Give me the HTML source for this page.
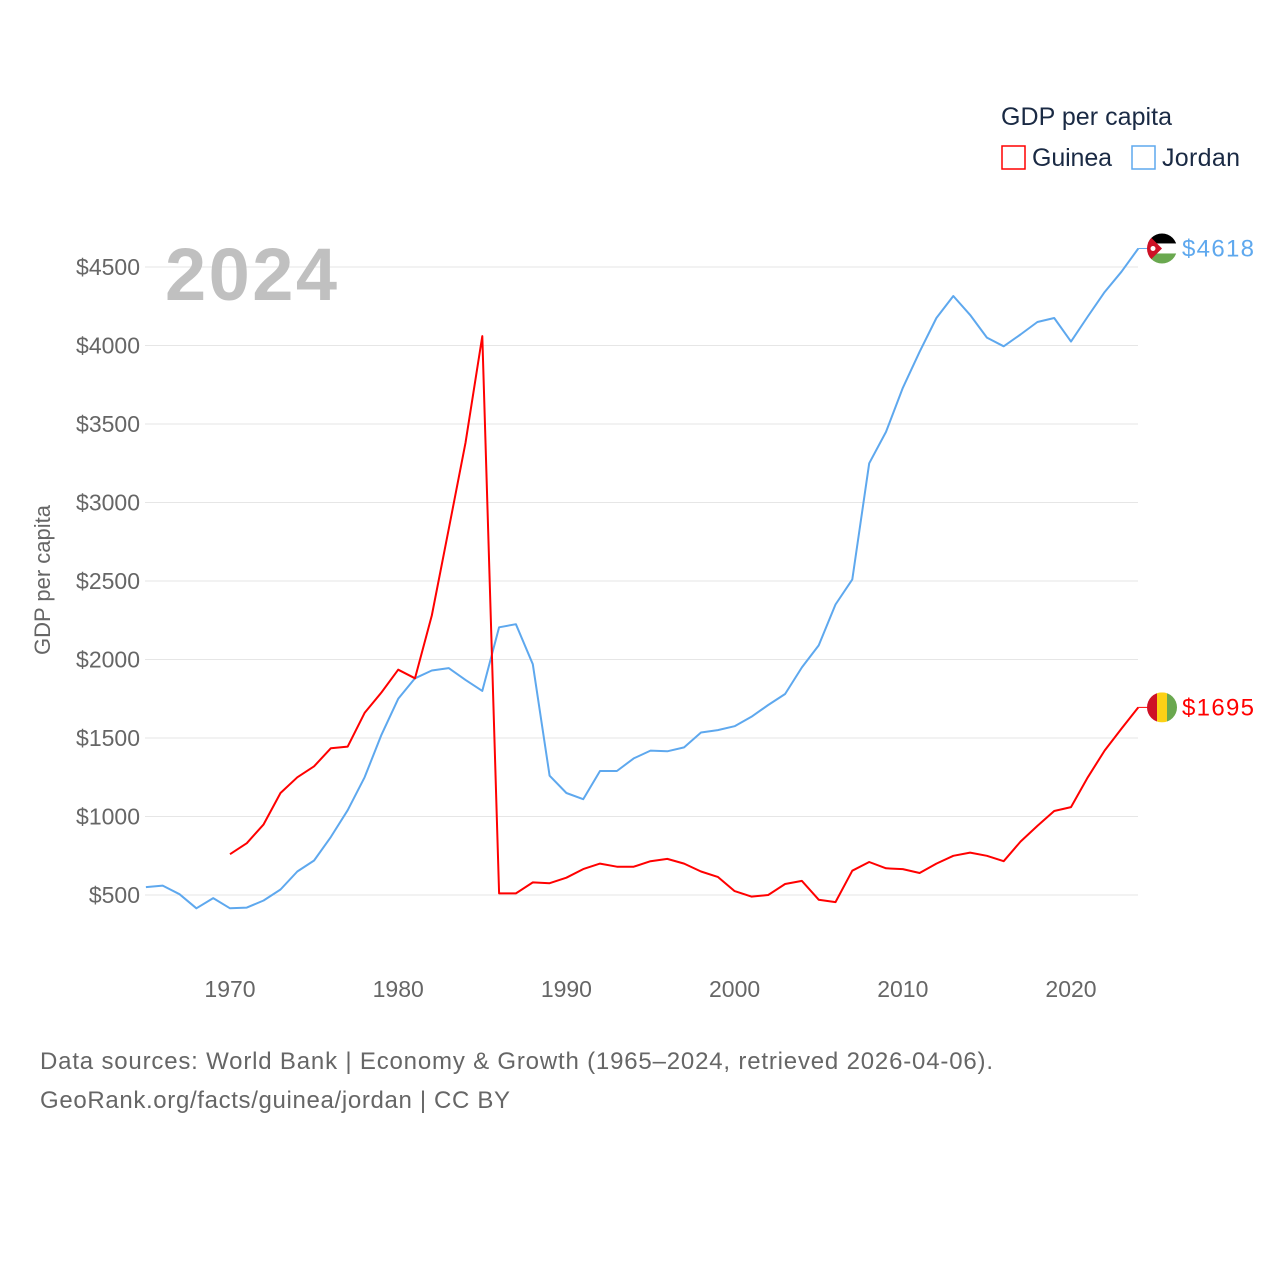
<!DOCTYPE html>
<html><head><meta charset="utf-8"><style>
html,body{margin:0;padding:0;background:#fff;width:1280px;height:1280px;overflow:hidden}
svg text{font-family:"Liberation Sans",sans-serif}
</style></head><body>
<svg width="1280" height="1280" viewBox="0 0 1280 1280">
<g id="grid"></g><g id="yt"></g><g id="xt"></g>
<text x="165" y="300" font-size="74" font-weight="bold" fill="#c0c0c0" textLength="172">2024</text>
<text transform="translate(50,580) rotate(-90)" text-anchor="middle" font-size="22" fill="#666">GDP per capita</text>
<g id="series"></g>
<g>
<text x="1001" y="125" font-size="25" fill="#1a2a44" textLength="171">GDP per capita</text>
<g><rect x="1002" y="146" width="23" height="23" fill="none" stroke="#f00" stroke-width="1.5"/><text x="1032" y="166" font-size="25" fill="#1a2a44" textLength="80">Guinea</text></g>
<g><rect x="1132" y="146" width="23" height="23" fill="none" stroke="#5ea8ee" stroke-width="1.5"/><text x="1162" y="166" font-size="25" fill="#1a2a44" textLength="78">Jordan</text></g>
</g>
<text x="40" y="1069" font-size="24" fill="#666" textLength="953">Data sources: World Bank | Economy &amp; Growth (1965–2024, retrieved 2026-04-06).</text>
<text x="40" y="1108" font-size="24" fill="#666" textLength="470">GeoRank.org/facts/guinea/jordan | CC BY</text>
</svg>
<script>
const yTicks=[500,1000,1500,2000,2500,3000,3500,4000,4500];
const xTicks=[1970,1980,1990,2000,2010,2020];
const jordanStart=1965;
const jordan=[550,560,505,415,480,415,420,465,535,650,720,870,1040,1250,1520,1750,1880,1930,1945,1870,1800,2205,2225,1970,1260,1150,1110,1290,1290,1370,1420,1415,1440,1535,1550,1575,1635,1710,1780,1950,2090,2350,2510,3250,3450,3730,3960,4175,4315,4195,4050,3995,4070,4150,4175,4025,4185,4340,4470,4618];
const guineaStart=1970;
const guinea=[760,830,950,1150,1250,1320,1435,1445,1660,1790,1935,1880,2280,2830,3380,4060,510,510,580,575,610,665,700,680,680,715,730,700,650,615,525,490,500,570,590,470,455,655,710,670,665,640,700,750,770,750,715,840,940,1035,1060,1250,1420,1560,1695];
const X=y=>145.9+(y-1965)*16.82;
const Y=v=>895-(v-500)*0.157;
const NS='http://www.w3.org/2000/svg';
function mk(t,a,p){const e=document.createElementNS(NS,t);for(const k in a)e.setAttribute(k,a[k]);p.appendChild(e);return e;}
const grid=document.getElementById('grid'),yt=document.getElementById('yt'),xt=document.getElementById('xt'),S=document.getElementById('series');
yTicks.forEach(v=>{
 const l=mk('line',{x1:145,x2:1138,y1:Y(v),y2:Y(v),stroke:'#e6e6e6','stroke-width':1},grid);
 
 
 const t=mk('text',{x:140,y:Y(v)+8,'text-anchor':'end','font-size':23,fill:'#666'},yt);
 t.textContent='$'+v;
 
 
});
xTicks.forEach(v=>{
 const t=mk('text',{x:X(v),y:997,'text-anchor':'middle','font-size':23,fill:'#666'},xt);
 t.textContent=v;
 
 
});
function line(data,start,color,name){
 const d=data.map((v,i)=>(i?'L':'M')+X(start+i).toFixed(1)+','+Y(v).toFixed(1)).join('');
 const p=mk('path',{d:d,fill:'none',stroke:color,'stroke-width':2,'stroke-linejoin':'round'},S);
 
 
 const lv=data[data.length-1],ly=Y(lv),lx=X(start+data.length-1);
 const dl=mk('line',{x1:lx,x2:1150,y1:ly,y2:ly,stroke:color,'stroke-width':1},S);
 
 
 const g=mk('g',{},S);
 
 
 const cx=1162;
 const cp=mk('clipPath',{id:'c'+name},g);mk('circle',{cx:cx,cy:ly,r:15},cp);
 const gg=mk('g',{'clip-path':'url(#c'+name+')'},g);
 if(name==='guinea'){
  mk('rect',{x:cx-15,y:ly-15,width:10,height:30,fill:'#ce1126'},gg);
  mk('rect',{x:cx-5,y:ly-15,width:10,height:30,fill:'#fcd116'},gg);
  mk('rect',{x:cx+5,y:ly-15,width:10,height:30,fill:'#6aa84f'},gg);
 }else{
  mk('rect',{x:cx-15,y:ly-15,width:30,height:10,fill:'#000'},gg);
  mk('rect',{x:cx-15,y:ly-5,width:30,height:10,fill:'#fff'},gg);
  mk('rect',{x:cx-15,y:ly+5,width:30,height:10,fill:'#6aa84f'},gg);
  mk('polygon',{points:`${cx-15},${ly-15} ${cx},${ly} ${cx-15},${ly+15}`,fill:'#ce1126'},gg);
  mk('circle',{cx:cx-9,cy:ly,r:2.5,fill:'#fff'},gg);
 }
 const t=mk('text',{x:1182,y:ly+8,'font-size':24,fill:color,textLength:72},S);
 t.textContent='$'+lv;
 
 
}
line(jordan,jordanStart,'#5ea8ee','jordan');
line(guinea,guineaStart,'#ff0000','guinea');
</script>
</body></html>
